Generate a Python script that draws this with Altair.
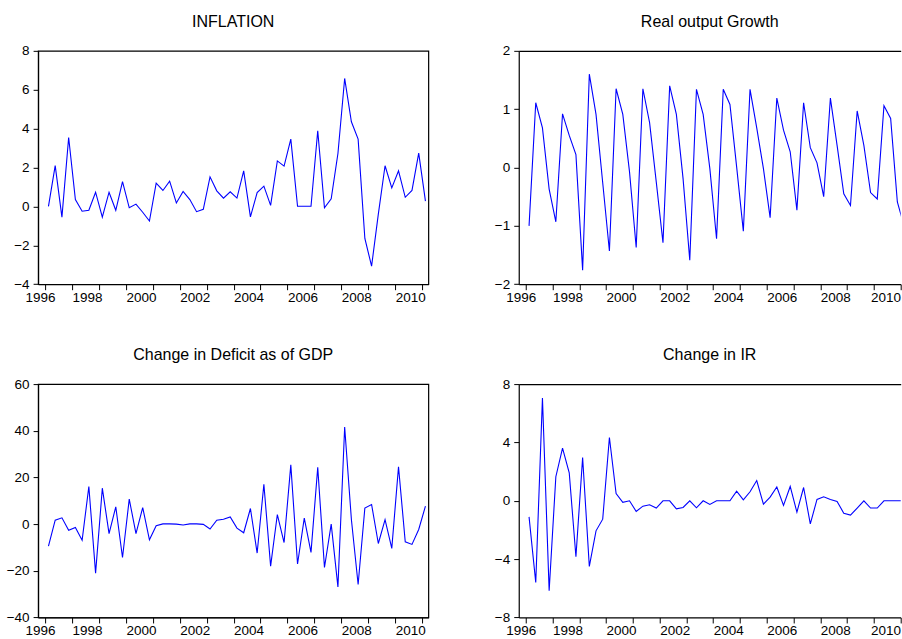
import altair as alt
import pandas as pd

FONT = "Liberation Sans"

# quarterly observations (57 quarters), plotted at quarter mid-points
n_obs = 57
t_values = [1996 + (i + 0.5) / 4 for i in range(n_obs)]

inflation = [0.0, 2.1, -0.55, 3.54, 0.35, -0.25, -0.2, 0.73, -0.55, 0.73,
             -0.2, 1.28, -0.07, 0.12, -0.3, -0.75, 1.2, 0.82, 1.3, 0.18,
             0.77, 0.35, -0.27, -0.15, 1.52, 0.8, 0.42, 0.75, 0.43, 1.83,
             -0.54, 0.71, 1.04, 0.05, 2.34, 2.07, 3.46, 0.01, 0.01, 0.01,
             3.89, -0.07, 0.39, 2.72, 6.58, 4.35, 3.46, -1.65, -3.07, -0.4,
             2.09, 0.95, 1.83, 0.47, 0.82, 2.74, 0.27]

real_growth = [-1.0, 1.11, 0.68, -0.37, -0.93, 0.92, 0.55, 0.22, -1.76, 1.6,
               0.91, -0.26, -1.43, 1.35, 0.91, -0.07, -1.37, 1.35, 0.77, -0.25,
               -1.29, 1.4, 0.91, -0.19, -1.59, 1.34, 0.91, -0.02, -1.22, 1.34,
               1.08, 0.01, -1.09, 1.34, 0.68, -0.02, -0.86, 1.19, 0.64, 0.27,
               -0.73, 1.11, 0.34, 0.08, -0.5, 1.19, 0.38, -0.45, -0.65, 0.97,
               0.38, -0.43, -0.54, 1.06, 0.84, -0.59, -1.0]

deficit_change = [-9.4, 1.7, 2.7, -2.6, -1.4, -6.9, 16.1, -21.0, 15.4, -4.1,
                  7.4, -14.3, 10.7, -4.1, 7.1, -6.7, -0.7, 0.1, 0.1, 0.0,
                  -0.4, 0.1, 0.1, -0.1, -2.1, 1.7, 2.1, 3.1, -1.7, -3.7,
                  6.7, -12.4, 17.1, -18.0, 4.1, -7.9, 25.4, -17.1, 2.6, -12.1,
                  24.3, -18.6, 0.0, -26.9, 41.6, 2.0, -25.9, 6.9, 8.4, -8.3,
                  1.9, -10.4, 24.6, -7.6, -8.7, -2.3, 7.7]

ir_change = [-1.1, -5.6, 7.04, -6.17, 1.65, 3.61, 1.92, -3.84, 2.97, -4.5,
             -2.06, -1.26, 4.34, 0.5, -0.11, 0.0, -0.73, -0.37, -0.27, -0.5,
             0.0, 0.0, -0.55, -0.46, 0.0, -0.48, 0.0, -0.25, 0.0, 0.0,
             0.0, 0.66, 0.07, 0.62, 1.39, -0.23, 0.25, 0.94, -0.32, 0.98,
             -0.78, 0.91, -1.58, 0.09, 0.27, 0.09, -0.05, -0.85, -0.98, -0.5,
             0.0, -0.5, -0.5, 0.0, 0.0, 0.0, 0.0]

year_ticks = list(range(1996, 2011))
x_domain_left = [1995.74, 2010.233]
x_domain_right = [1995.74, 2010.0]   # right-hand panels are cut at the picture edge

titles = ["INFLATION", "Real output Growth", "Change in Deficit as of GDP", "Change in IR"]
y_ticks = [
    [-4, -2, 0, 2, 4, 6, 8],
    [-2, -1, 0, 1, 2],
    [-40, -20, 0, 20, 40, 60],
    [-8, -4, 0, 4, 8],
]
series = [inflation, real_growth, deficit_change, ir_change]

W_LEFT, W_RIGHT, H = 390.3, 382.0, 233.4


def panel(values, title, yt, right):
    df = pd.DataFrame({"t": t_values, "v": values})
    x_scale = alt.Scale(domain=x_domain_right if right else x_domain_left, nice=False, zero=False)
    last_shift = -3.5 if right else 0
    x_axis = alt.Axis(
        values=year_ticks,
        labelExpr="datum.value % 2 == 1 ? format(datum.value + 1, 'd') : (datum.value == 1996 ? '1996' : '')",
        labelAlign={"condition": {"test": "datum.value == 1996", "value": "right"}, "value": "left"},
        labelOffset={"condition": [{"test": "datum.value == 1996", "value": 10},
                                   {"test": "datum.value == 2009", "value": last_shift}],
                     "value": 0},
        labelFlush=False,
        labelOverlap=False,
        labelPadding=1,
        tickSize=5.5,
        grid=False,
        title=None,
    )
    y_axis = alt.Axis(
        values=yt,
        labelPadding=4,
        tickSize=5,
        labelFlush=False,
        labelOverlap=False,
        grid=False,
        title=None,
    )
    line = alt.Chart(df).mark_line(color="#0000FF", strokeWidth=1.1, clip=True).encode(
        x=alt.X("t:Q", scale=x_scale, axis=x_axis),
        y=alt.Y("v:Q", scale=alt.Scale(domain=[yt[0], yt[-1]], nice=False, zero=False), axis=y_axis),
    )
    if not right:
        return line.properties(width=W_LEFT, height=H, title=alt.TitleParams(title))
    # top frame line drawn by a bare top axis (no right frame: panel is cut at the edge)
    top = alt.Chart(df).mark_point(opacity=0, clip=True, size=1).encode(
        x=alt.X("t:Q", scale=x_scale,
                axis=alt.Axis(orient="top", labels=False, ticks=False, domain=True, grid=False, title=None)),
    )
    return (
        alt.layer(line, top)
        .resolve_axis(x="independent")
        .properties(width=W_RIGHT, height=H, title=alt.TitleParams(title),
                    view=alt.ViewBackground(strokeOpacity=0))
    )


panels = [panel(s, t, yt, i % 2 == 1) for i, (s, t, yt) in enumerate(zip(series, titles, y_ticks))]

chart = (
    alt.concat(*panels, columns=2, spacing={"row": 99.3, "column": 89.7}, bounds="flush")
    .properties(padding={"left": 5.1, "top": 12.8, "right": 0, "bottom": 0}, background="white")
    .configure_view(stroke="#000000", strokeWidth=1.2)
    .configure_axis(
        domainColor="#000000",
        domainWidth=1.2,
        tickColor="#000000",
        labelColor="#000000",
        labelFont=FONT,
        labelFontSize=13.5,
    )
    .configure_axisY(labelBaseline="middle")
    .configure_title(font=FONT, fontSize=16, fontWeight="normal", color="#000000", offset=14, anchor="middle")
)

chart.save("out.html", embed_options={"renderer": "svg", "actions": False})
